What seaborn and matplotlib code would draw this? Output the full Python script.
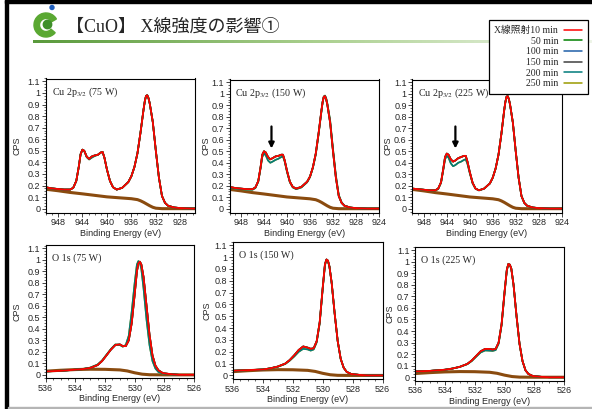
import numpy as np
import pandas as pd
import seaborn as sns
import matplotlib.pyplot as plt
from matplotlib.lines import Line2D
from matplotlib.patches import Wedge, Circle, Rectangle
from matplotlib.colors import LinearSegmentedColormap
from matplotlib.ticker import MultipleLocator, FuncFormatter

# ---- data ----
series_names = ["X線照射10 min", "50 min", "100 min", "150 min", "200 min", "250 min"]
series_colors = ["#ff0000", "#008000", "#1f5fa8", "#404040", "#007b7b", "#9a9a00"]

# Cu 2p3/2 spectra (binding energy, normalised CPS)
cu_be = [950, 949, 948, 947, 946, 945.5, 945, 944.6, 944.3, 944.0, 943.7, 943.3, 942.9, 942.5,
         942.0, 941.5, 941.0, 940.7, 940.4, 940.0, 939.5, 939.0, 938.4, 937.5, 936.5, 936.0,
         935.5, 935.0, 934.5, 934.0, 933.8, 933.6, 933.4, 933.2, 933.0, 932.5, 932.0, 931.5, 931.0,
         930.5, 930.0, 929.0, 928.0, 926.0, 924.0]
cu75_10 = [0.185, 0.175, 0.17, 0.165, 0.165, 0.18, 0.24, 0.36, 0.47, 0.51, 0.50, 0.45, 0.43, 0.45,
           0.46, 0.465, 0.485, 0.49, 0.44, 0.34, 0.24, 0.185, 0.165, 0.18, 0.23, 0.28,
           0.36, 0.48, 0.66, 0.86, 0.93, 0.975, 0.98, 0.955, 0.91, 0.75, 0.50, 0.27, 0.11,
           0.05, 0.025, 0.01, 0.005, 0.0, 0.0]
cu75_250 = [0.185, 0.175, 0.17, 0.165, 0.165, 0.18, 0.24, 0.36, 0.47, 0.51, 0.50, 0.445, 0.425, 0.44,
            0.455, 0.465, 0.485, 0.49, 0.44, 0.34, 0.24, 0.185, 0.165, 0.18, 0.23, 0.28,
            0.36, 0.48, 0.66, 0.86, 0.93, 0.975, 0.98, 0.955, 0.91, 0.75, 0.50, 0.27, 0.11,
            0.05, 0.025, 0.01, 0.005, 0.0, 0.0]
cu150_10 = [0.19, 0.18, 0.175, 0.17, 0.17, 0.185, 0.24, 0.36, 0.47, 0.50, 0.49, 0.45, 0.43, 0.44,
            0.455, 0.46, 0.47, 0.47, 0.42, 0.33, 0.235, 0.19, 0.175, 0.19, 0.235, 0.28,
            0.36, 0.48, 0.66, 0.86, 0.93, 0.975, 0.98, 0.955, 0.91, 0.75, 0.50, 0.27, 0.11,
            0.05, 0.025, 0.01, 0.005, 0.0, 0.0]
cu150_250 = [0.185, 0.175, 0.17, 0.165, 0.165, 0.18, 0.235, 0.35, 0.45, 0.48, 0.465, 0.42, 0.40, 0.41,
             0.425, 0.435, 0.45, 0.455, 0.41, 0.32, 0.23, 0.185, 0.17, 0.185, 0.23, 0.275,
             0.355, 0.47, 0.65, 0.85, 0.93, 0.975, 0.985, 0.965, 0.92, 0.77, 0.52, 0.29, 0.12,
             0.055, 0.027, 0.01, 0.005, 0.0, 0.0]
cu225_10 = [0.175, 0.17, 0.165, 0.16, 0.16, 0.175, 0.23, 0.35, 0.45, 0.48, 0.47, 0.43, 0.41, 0.42,
            0.44, 0.45, 0.46, 0.46, 0.41, 0.32, 0.225, 0.175, 0.16, 0.175, 0.22, 0.27,
            0.35, 0.47, 0.65, 0.86, 0.93, 0.975, 0.98, 0.955, 0.91, 0.75, 0.50, 0.27, 0.11,
            0.05, 0.025, 0.01, 0.005, 0.0, 0.0]
cu225_250 = [0.175, 0.17, 0.165, 0.16, 0.16, 0.17, 0.225, 0.34, 0.43, 0.46, 0.445, 0.395, 0.37, 0.38,
             0.40, 0.41, 0.425, 0.43, 0.39, 0.31, 0.22, 0.175, 0.16, 0.175, 0.22, 0.27,
             0.35, 0.47, 0.65, 0.86, 0.93, 0.975, 0.98, 0.955, 0.91, 0.75, 0.50, 0.27, 0.11,
             0.05, 0.025, 0.01, 0.005, 0.0, 0.0]
cu_bg_be = [950, 948, 946, 944, 942, 940, 938, 936, 935, 934.5, 934, 933.5, 933, 932.5, 932, 931, 930, 924]
cu_bg = [0.168, 0.155, 0.14, 0.128, 0.115, 0.102, 0.094, 0.086, 0.078, 0.068, 0.055, 0.04, 0.025,
         0.012, 0.004, 0.0, 0.0, 0.0]

# O 1s spectra
o_be = [536, 535, 534, 533.5, 533, 532.5, 532.2, 531.9, 531.6, 531.3, 531.0, 530.8, 530.6, 530.4,
        530.2, 530.0, 529.85, 529.75, 529.65, 529.55, 529.4, 529.2, 529.0, 528.8, 528.6, 528.4, 528.1,
        527.5, 527, 526]
o75_10 = [0.03, 0.035, 0.045, 0.05, 0.06, 0.085, 0.12, 0.17, 0.22, 0.26, 0.265, 0.25, 0.25, 0.30,
          0.45, 0.70, 0.90, 0.97, 0.985, 0.96, 0.85, 0.60, 0.35, 0.17, 0.08, 0.04, 0.015, 0.005, 0.0, 0.0]
o75_250 = [0.03, 0.035, 0.045, 0.052, 0.063, 0.09, 0.125, 0.175, 0.225, 0.265, 0.26, 0.245, 0.26, 0.34,
           0.55, 0.80, 0.96, 0.99, 0.975, 0.92, 0.75, 0.48, 0.26, 0.12, 0.055, 0.025, 0.01, 0.003, 0.0, 0.0]
o150_10 = [0.04, 0.045, 0.05, 0.06, 0.075, 0.10, 0.13, 0.17, 0.215, 0.245, 0.235, 0.225, 0.23, 0.29,
           0.45, 0.74, 0.94, 0.98, 0.97, 0.92, 0.78, 0.52, 0.29, 0.14, 0.065, 0.03, 0.012, 0.004, 0.0, 0.0]
o150_250 = [0.04, 0.045, 0.05, 0.06, 0.073, 0.097, 0.125, 0.16, 0.20, 0.225, 0.22, 0.21, 0.22, 0.28,
            0.44, 0.73, 0.93, 0.975, 0.965, 0.92, 0.78, 0.52, 0.29, 0.14, 0.065, 0.03, 0.012, 0.004, 0.0, 0.0]
o225_10 = [0.05, 0.055, 0.065, 0.075, 0.09, 0.115, 0.145, 0.185, 0.225, 0.245, 0.245, 0.24, 0.245, 0.30,
           0.46, 0.74, 0.93, 0.98, 0.975, 0.94, 0.80, 0.53, 0.29, 0.14, 0.06, 0.028, 0.01, 0.003, 0.0, 0.0]
o225_250 = [0.05, 0.055, 0.065, 0.075, 0.09, 0.113, 0.14, 0.178, 0.215, 0.232, 0.23, 0.228, 0.235, 0.29,
            0.45, 0.73, 0.925, 0.978, 0.973, 0.94, 0.80, 0.53, 0.29, 0.14, 0.06, 0.028, 0.01, 0.003, 0.0, 0.0]
o_bg_be = [536, 535, 534, 533, 532, 531, 530.5, 530, 529.5, 529, 528, 526]
o_bg = [0.032, 0.04, 0.046, 0.049, 0.048, 0.043, 0.034, 0.018, 0.006, 0.001, 0.0, 0.0]

panel_titles = ["Cu 2p$_{\\rm 3/2}$ (75 W)", "Cu 2p$_{\\rm 3/2}$ (150 W)", "Cu 2p$_{\\rm 3/2}$ (225 W)",
                "O 1s (75 W)", "O 1s (150 W)", "O 1s (225 W)"]

W, H = 592, 409
sns.set_style("ticks")
plt.rcParams['font.family'] = ['Liberation Sans', 'Noto Sans CJK JP']
plt.rcParams['mathtext.fontset'] = 'stix'
SERIF = ['Liberation Serif', 'Noto Sans CJK JP']

fig = plt.figure(figsize=(W / 100, H / 100), dpi=100)

def px_axes(x0, y0, x1, y1):
    return fig.add_axes([x0 / W, 1 - y1 / H, (x1 - x0) / W, (y1 - y0) / H])

panels = [
    dict(box=(45.7, 78.5, 195, 212.7), xlim=(950, 925.6), ylim=(-0.035, 1.125), be=cu_be,
         new=cu75_10, old=cu75_250, bgx=cu_bg_be, bg=cu_bg, ylx=-0.16, arrow=None),
    dict(box=(229.5, 79.5, 379, 212.7), xlim=(950, 924), ylim=(-0.035, 1.125), be=cu_be,
         new=cu150_10, old=cu150_250, bgx=cu_bg_be, bg=cu_bg, ylx=-0.125, arrow=942.7),
    dict(box=(412.3, 79.5, 561.7, 212.7), xlim=(950, 924), ylim=(-0.035, 1.125), be=cu_be,
         new=cu225_10, old=cu225_250, bgx=cu_bg_be, bg=cu_bg, ylx=-0.13, arrow=942.5),
    dict(box=(45.7, 245, 194, 378.3), xlim=(536, 526), ylim=(-0.03, 1.13), be=o_be,
         new=o75_10, old=o75_250, bgx=o_bg_be, bg=o_bg, ylx=-0.16, arrow=None),
    dict(box=(232.7, 241.7, 382.7, 379), xlim=(536, 526), ylim=(-0.03, 1.13), be=o_be,
         new=o150_10, old=o150_250, bgx=o_bg_be, bg=o_bg, ylx=-0.14, arrow=None),
    dict(box=(415, 246.7, 564.3, 380.7), xlim=(536, 526), ylim=(-0.03, 1.13), be=o_be,
         new=o225_10, old=o225_250, bgx=o_bg_be, bg=o_bg, ylx=-0.135, arrow=None),
]

yfmt = FuncFormatter(lambda v, p: ("%.1f" % v).rstrip('0').rstrip('.') if abs(v) > 1e-9 else "0")

for i, p in enumerate(panels):
    ax = px_axes(*p["box"])
    sns.lineplot(x=p["bgx"], y=p["bg"], ax=ax, color="#8a4b0f", lw=2.2, estimator=None)
    # draw oldest first so 10 min (red) ends up on top
    for k in range(len(series_names) - 1, -1, -1):
        yv = p["old"] if k >= 4 else p["new"]
        sns.lineplot(x=p["be"], y=yv, ax=ax, color=series_colors[k], lw=1.2 if k else 1.3,
                     estimator=None)
    ax.set_xlim(*p["xlim"])
    ax.set_ylim(*p["ylim"])
    if i < 3:
        ax.xaxis.set_major_locator(MultipleLocator(4))
        ax.xaxis.set_minor_locator(MultipleLocator(1))
    else:
        ax.xaxis.set_major_locator(MultipleLocator(2))
        ax.xaxis.set_minor_locator(MultipleLocator(0.5))
    ax.yaxis.set_major_locator(MultipleLocator(0.1))
    ax.yaxis.set_minor_locator(MultipleLocator(0.025))
    ax.yaxis.set_major_formatter(yfmt)
    ax.tick_params(which="major", direction="out", length=3, width=0.6, labelsize=6.5, pad=1)
    ax.tick_params(which="minor", direction="out", length=1.5, width=0.5)
    for s in ax.spines.values():
        s.set_visible(True)
        s.set_linewidth(0.8)
        s.set_color("black")
    ax.set_xlabel("Binding Energy (eV)", fontsize=6.5, labelpad=1)
    ax.set_ylabel("CPS", fontsize=6.5)
    ax.yaxis.set_label_coords(p["ylx"], 0.5)
    ax.text(0.04, 0.90, panel_titles[i], transform=ax.transAxes, fontsize=7.2,
            family=SERIF, va="center", ha="left")
    if p["arrow"] is not None:
        ax.annotate("", xy=(p["arrow"], 0.50), xytext=(p["arrow"], 0.74),
                    arrowprops=dict(arrowstyle="-|>", color="black", lw=1.6, mutation_scale=8))

# legend box in upper right
handles = [Line2D([0], [0], color=c, lw=1.1) for c in series_colors]
leg = fig.legend(handles, series_names, loc="upper right",
                 bbox_to_anchor=(588.3 / W, 1 - 20 / H), borderaxespad=0,
                 markerfirst=False, frameon=True, fancybox=False, framealpha=1,
                 edgecolor="black", prop={"family": SERIF, "size": 7},
                 handlelength=1.9, handletextpad=0.6, labelspacing=0.17, borderpad=0.6)
leg.get_frame().set_linewidth(0.9)

# slide title
fig.text(66 / W, 1 - 27 / H, "【CuO】 X線強度の影響①", fontsize=13, family=SERIF,
         va="center", ha="left")

# green gradient rule under title
ax_bar = px_axes(33, 39.5, 592, 42.8)
grad = np.linspace(0, 1, 256).reshape(1, -1)
cmap = LinearSegmentedColormap.from_list("g", ["#5a9a3c", "#a9cf8d", "#eef5e8"])
ax_bar.imshow(grad, aspect="auto", cmap=cmap)
ax_bar.axis("off")

# logo
ax_logo = px_axes(28, 2, 64, 42)
ax_logo.set_xlim(28, 64)
ax_logo.set_ylim(42, 2)
ax_logo.add_patch(Wedge((46, 25), 12, 40, 330, width=5.5, color="#5aa832"))
ax_logo.add_patch(Circle((47.5, 24.5), 4.2, color="#3f8f2a"))
ax_logo.add_patch(Circle((52, 7.5), 2.0, color="#1f5fbf"))
ax_logo.axis("off")

# slide frame
fig.add_artist(Rectangle((5 / W, 0), 3 / W, 1, transform=fig.transFigure, color="black"))
fig.add_artist(Rectangle((5 / W, 1 - 3 / H), 1, 3 / H, transform=fig.transFigure, color="black"))
fig.add_artist(Rectangle((8 / W, 0), 1, 2 / H, transform=fig.transFigure, color="#b5b5b5"))

fig.savefig("out.png", dpi=100)
